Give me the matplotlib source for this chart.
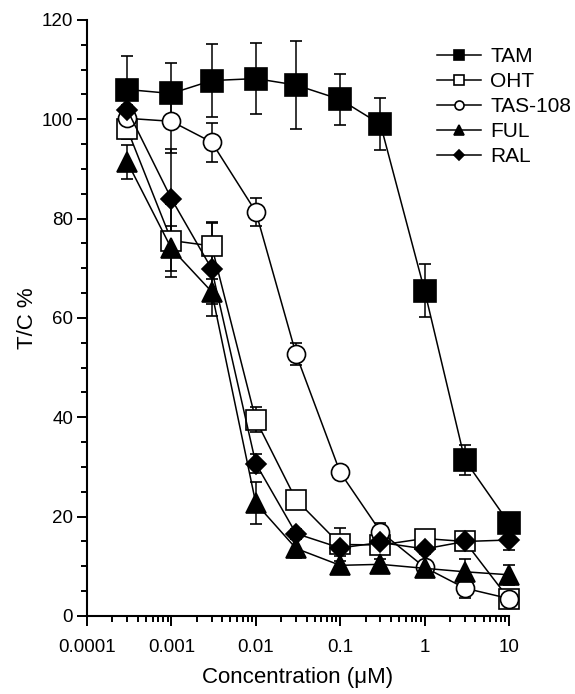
import matplotlib.pyplot as plt
from matplotlib.ticker import FixedLocator, LogLocator, NullFormatter
import numpy as np

plt.rcParams['font.family'] = ['Liberation Sans', 'DejaVu Sans']

# Data
conc = np.array([0.0003, 0.001, 0.003, 0.01, 0.03, 0.1, 0.3, 1, 3, 10])

tam = [106.0, 105.2, 107.8, 108.2, 106.9, 104.0, 99.0, 65.5, 31.4, 18.7]
tam_err = [6.8, 6.2, 7.3, 7.1, 8.9, 5.2, 5.2, 5.4, 3.0, 1.5]
oht = [98.0, 75.6, 74.5, 39.5, 23.4, 14.4, 14.3, 15.6, 15.0, 3.4]
oht_err = [2.0, 7.3, 4.6, 2.5, 1.5, 3.4, 1.5, 1.5, 1.5, 1.0]
tas = [100.2, 99.6, 95.4, 81.4, 52.7, 28.9, 17.0, 9.8, 5.6, 3.5]
tas_err = [1.5, 6.4, 3.9, 2.8, 2.2, 1.0, 1.7, 1.0, 2.0, 1.0]
ful = [91.4, 74.0, 65.3, 22.7, 13.6, 10.2, 10.4, 9.6, 8.9, 8.3]
ful_err = [3.5, 4.5, 2.5, 4.2, 2.0, 1.8, 1.0, 1.0, 2.6, 2.0]
ral = [101.9, 84.0, 69.9, 30.7, 16.6, 13.7, 14.8, 13.5, 15.0, 15.3]
ral_err = [1.0, 10.0, 9.4, 2.0, 1.0, 1.0, 1.0, 1.0, 1.0, 2.1]

labels = ['TAM', 'OHT', 'TAS-108', 'FUL', 'RAL']
xticks = [0.0001, 0.001, 0.01, 0.1, 1, 10]
xticklabels = ['0.0001', '0.001', '0.01', '0.1', '1', '10']

series = [(tam, tam_err, 's', 'black', 15.5),
          (oht, oht_err, 's', 'white', 15.0),
          (tas, tas_err, 'o', 'white', 13.0),
          (ful, ful_err, '^', 'black', 14.0),
          (ral, ral_err, 'D', 'black', 10.0)]

fig = plt.figure(figsize=(5.75, 6.94), dpi=100)
ax = fig.add_axes([0.1513, 0.1124, 0.7339, 0.8588])

for (y, err, mk, fc, ms), lab in zip(series, labels):
    ax.errorbar(conc, y, yerr=err, marker=mk, ms=ms, mfc=fc, mec='black',
                mew=1.2, color='black', lw=1.1, elinewidth=1.1, capsize=4,
                capthick=1.1, label=lab, clip_on=False)

ax.set_xscale('log')
ax.set_xlim(0.0001, 10)
ax.set_ylim(0, 120)
ax.xaxis.set_major_locator(FixedLocator(xticks))
ax.set_xticklabels(xticklabels)
ax.xaxis.set_minor_locator(LogLocator(base=10, subs=np.arange(2, 10)))
ax.xaxis.set_minor_formatter(NullFormatter())
ax.set_yticks(np.arange(0, 121, 20))
ax.yaxis.set_minor_locator(FixedLocator(np.arange(0, 121, 5)))

for s in ['top', 'right']:
    ax.spines[s].set_visible(False)
for s in ['left', 'bottom']:
    ax.spines[s].set_linewidth(1.5)
ax.tick_params(which='major', direction='out', length=7, width=1.4,
               labelsize=13.5)
ax.tick_params(axis='x', which='major', pad=9.5)
ax.tick_params(axis='y', which='major', pad=3)
ax.tick_params(which='minor', direction='out', length=4.5, width=1.4)

ax.set_xlabel('Concentration (\u03bcM)', fontsize=16, labelpad=8)
ax.set_ylabel('T/C %', fontsize=16, labelpad=3)

handles, labs = ax.get_legend_handles_labels()
handles = [h[0] for h in handles]
ax.legend(handles, labs, loc='upper left', bbox_to_anchor=(437 / 575, 0.932),
          bbox_transform=fig.transFigure, frameon=False, fontsize=15,
          markerscale=0.5, handlelength=2.1, handletextpad=0.45,
          labelspacing=0.29, borderpad=0, borderaxespad=0)

fig.savefig('out.png', dpi=100)
